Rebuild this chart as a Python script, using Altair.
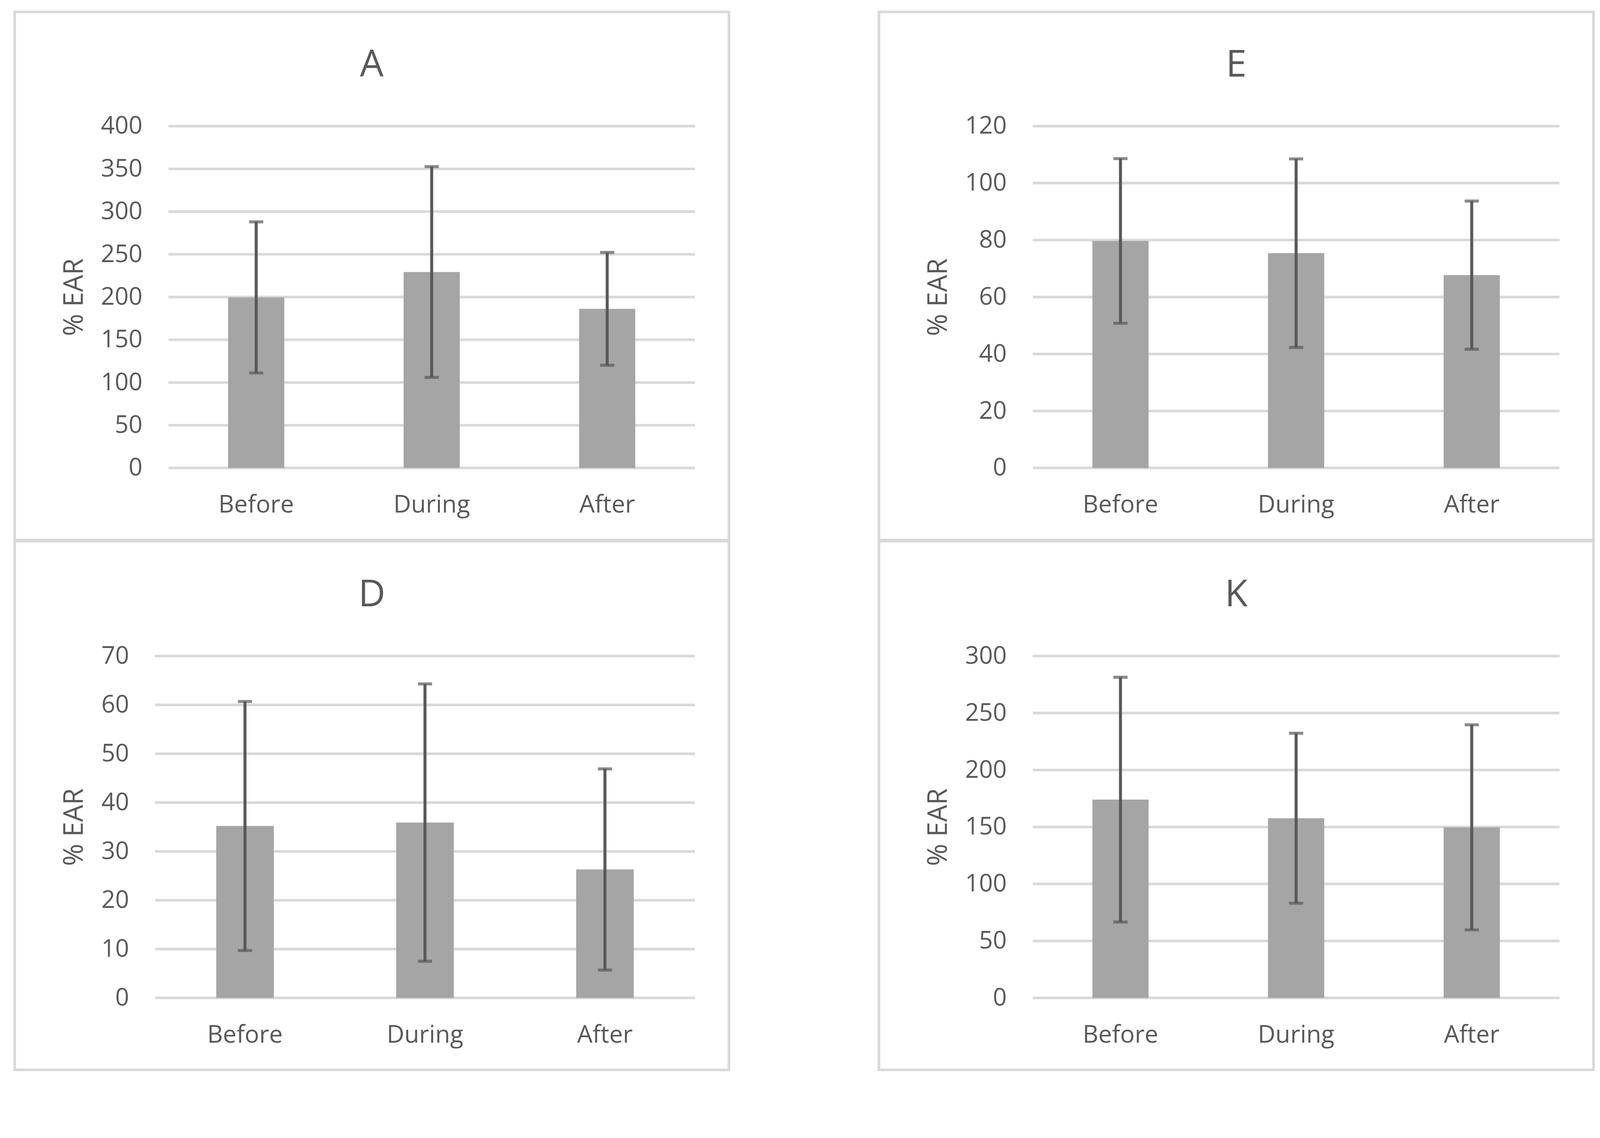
import altair as alt
import pandas as pd

# ---- data ----
periods = ["Before", "During", "After"]

a_mean = [199.6, 229.3, 186.2]
a_err = [88.4, 123.3, 66.0]
a_ticks = [0, 50, 100, 150, 200, 250, 300, 350, 400]

e_mean = [79.7, 75.4, 67.7]
e_err = [28.9, 33.1, 26.0]
e_ticks = [0, 20, 40, 60, 80, 100, 120]

d_mean = [35.2, 35.9, 26.3]
d_err = [25.5, 28.4, 20.6]
d_ticks = [0, 10, 20, 30, 40, 50, 60, 70]

k_mean = [174.0, 157.7, 149.7]
k_err = [107.4, 74.6, 90.0]
k_ticks = [0, 50, 100, 150, 200, 250, 300]

FONT = "Open Sans"
TEXT = "#595959"
GRID = "#d9d9d9"
BAR = "#a5a5a5"
ERR = "#595959"

H = 916


def panel(name, means, errs, ticks, width, inset, left, right, top, bottom, ytitle_x, title_gap):
    """inset: empty strip at the left of the plot area where gridlines do not reach."""
    df = pd.DataFrame({"period": periods, "mean": means, "err": errs})
    df["lo"] = df["mean"] - df["err"]
    df["hi"] = df["mean"] + df["err"]
    grid_df = pd.DataFrame({"v": ticks})

    xaxis = alt.Axis(title=None, labelAngle=0, domain=False, ticks=False, tickSize=0,
                     grid=False, labelPadding=119, labelBaseline="alphabetic",
                     labelFontSize=65, labelFont=FONT, labelColor=TEXT,
                     labelLimit=2000, labelOverlap=False)
    xscale = alt.Scale(paddingInner=0.68, paddingOuter=0.34, range=[inset, width])

    def X():
        return alt.X("period:N", sort=periods, scale=xscale, axis=xaxis)

    yaxis = alt.Axis(values=ticks, title="% EAR", grid=False,
                     domain=False, ticks=False, tickSize=0, labelPadding=70 - inset,
                     labelFontSize=65, labelFont=FONT, labelColor=TEXT,
                     labelBaseline="middle", labelLimit=2000,
                     titleFontSize=72, titleFont=FONT, titleColor=TEXT,
                     titleFontWeight="normal", titleBaseline="alphabetic",
                     titleAngle=270, titleX=ytitle_x, titleY=H / 2)
    yscale = alt.Scale(domain=[0, ticks[-1]], nice=False, zero=True)

    def Y(field):
        return alt.Y(f"{field}:Q", scale=yscale, axis=yaxis, title="% EAR")

    # horizontal gridlines at the tick values
    grid = alt.Chart(grid_df).mark_rule(color=GRID, strokeWidth=7).encode(
        y=Y("v"), x=alt.value(inset), x2=alt.value(width)
    )

    base = alt.Chart(df)
    bars = base.mark_bar(color=BAR).encode(x=X(), y=Y("mean"))
    rules = base.mark_rule(color=ERR, strokeWidth=8).encode(x=X(), y=Y("lo"), y2="hi:Q")
    cap_lo = base.mark_tick(color=ERR, thickness=8, size=38).encode(x=X(), y=Y("lo"))
    cap_hi = base.mark_tick(color=ERR, thickness=8, size=38).encode(x=X(), y=Y("hi"))

    # chart-area frame around the whole panel (Excel style)
    frame = alt.Chart(pd.DataFrame({"k": [0]})).mark_rect(
        filled=False, stroke=GRID, strokeWidth=7
    ).encode(
        x=alt.value(-left), x2=alt.value(width + right),
        y=alt.value(-top), y2=alt.value(H + bottom)
    )

    # panel title, centred on the frame
    title = alt.Chart(pd.DataFrame({"t": [name]})).mark_text(
        fontSize=100, font=FONT, color=TEXT, baseline="alphabetic", align="center"
    ).encode(
        text="t:N",
        x=alt.value((width + right - left) / 2),
        y=alt.value(-title_gap),
    )

    return alt.layer(frame, grid, bars, rules, cap_lo, cap_hi, title).properties(
        width=width, height=H
    )


# column 1 panels share the same plot box (gridlines of A start 36px further right)
pA = panel("A", a_mean, a_err, a_ticks, 1447, 36, 376, 91, 306, 193, -194, 133)
pD = panel("D", d_mean, d_err, d_ticks, 1447, 0, 376, 91, 308, 193, -194, 133)
pE = panel("E", e_mean, e_err, e_ticks, 1412, 0, 412, 91, 306, 193, -230, 133)
pK = panel("K", k_mean, k_err, k_ticks, 1412, 0, 412, 91, 308, 193, -230, 133)

chart = alt.concat(
    pA, pE, pD, pK,
    columns=2,
    spacing={"row": -5, "column": 394},
).properties(
    padding={"left": 27, "top": -46, "right": 5, "bottom": 5}
).configure(background="white").configure_view(stroke=None)

chart.save("out.html", embed_options={"renderer": "svg", "actions": False})
